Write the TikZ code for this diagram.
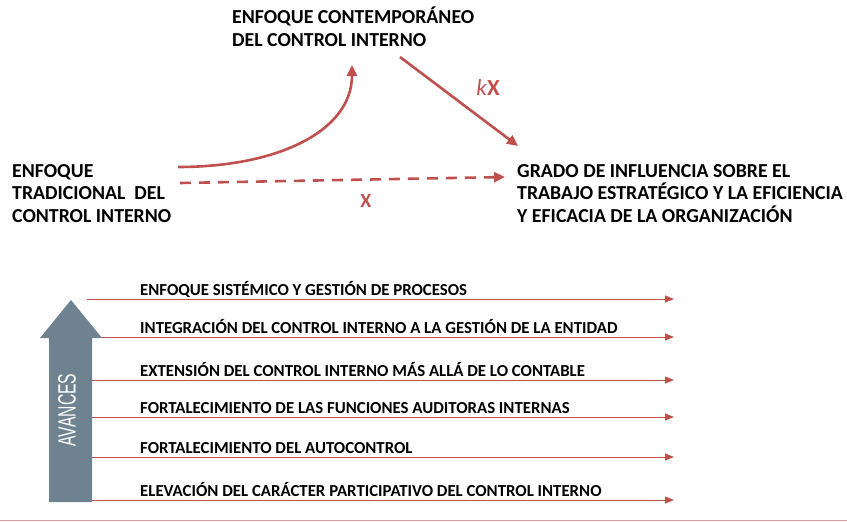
\documentclass[tikz,border=0pt]{standalone}
\usepackage{fontspec}
\setmainfont{Carlito}
\newfontfamily\avfont{Liberation Sans}
\usetikzlibrary{arrows.meta}

\definecolor{rojo}{RGB}{192,80,77}
\definecolor{pizarra}{RGB}{110,130,143}
\definecolor{borde}{RGB}{215,160,160}

\tikzset{
  titulo/.style={font=\bfseries\fontsize{19.8}{22.5}\selectfont, align=left, anchor=base west, inner sep=0pt},
  avance/.style={font=\bfseries\fontsize{16.8}{18}\selectfont, anchor=base west, inner sep=0pt},
  gruesa/.style={draw=rojo, line width=2.6pt, -{Triangle[length=11pt,width=10pt]}},
  fina/.style={draw=rojo, line width=1pt, -{Triangle[length=9pt,width=7pt]}},
  factor/.style={text=rojo, inner sep=0pt}
}

\begin{document}
\begin{tikzpicture}[x=1pt,y=-1pt]
	\useasboundingbox (0,0) rectangle (847,522);

	% textos de arriba (ancla en la ultima linea)
	\node[titulo] (contemp) at (232,46) {ENFOQUE CONTEMPORÁNEO\\DEL CONTROL INTERNO};
	\node[titulo] (tradic) at (12,222) {ENFOQUE\\TRADICIONAL\ \ DEL\\CONTROL INTERNO};
	\node[titulo] (grado) at (517,222) {GRADO DE INFLUENCIA SOBRE EL\\TRABAJO ESTRATÉGICO Y LA EFICIENCIA\\Y EFICACIA DE LA ORGANIZACIÓN};

	\coordinate (curvaA) at (178,167);
	\coordinate (curvaB) at (352,65);
	\coordinate (rectaA) at (400,57);
	\coordinate (rectaB) at (518,146);
	\coordinate (trazoA) at (180,183);
	\coordinate (trazoB) at (505,177);

	\draw[gruesa] (curvaA) .. controls (280,167) and (352,130) .. (curvaB);
	\draw[gruesa] (rectaA) -- (rectaB);
	\draw[gruesa, dash pattern=on 11pt off 8pt] (trazoA) -- (trazoB);

	\node[factor, font=\fontsize{23}{23}\selectfont] (kx) at (488,88) {\textit{k}\textbf{X}};
	\node[factor, font=\bfseries\fontsize{20}{20}\selectfont] (x) at (366,201) {X};

	% avances
	\foreach \i/\y/\t in {1/299/ENFOQUE SISTÉMICO Y GESTIÓN DE PROCESOS,
		2/337/INTEGRACIÓN DEL CONTROL INTERNO A LA GESTIÓN DE LA ENTIDAD,
		3/380/EXTENSIÓN DEL CONTROL INTERNO MÁS ALLÁ DE LO CONTABLE,
		4/417/FORTALECIMIENTO DE LAS FUNCIONES AUDITORAS INTERNAS,
		5/457/FORTALECIMIENTO DEL AUTOCONTROL,
		6/500/ELEVACIÓN DEL CARÁCTER PARTICIPATIVO DEL CONTROL INTERNO}
	{
		\coordinate (ini\i) at (87,\y);
		\coordinate (fin\i) at (674,\y);
		\draw[fina] (ini\i) -- (fin\i);
		\node[avance] (av\i) at (140,\y-3.5) {\t};
	}

	\fill[pizarra] (71,300) -- (102,338) -- (92,338) -- (92,502) -- (49,502) -- (49,338) -- (40,338) -- cycle;
	\node[text=white, rotate=90, inner sep=0pt] (avances) at (67,410)
		{\avfont\fontsize{25}{25}\selectfont\scalebox{0.63}[1]{AVANCES}};

	\draw[borde, line width=1pt] (0,520.5) -- (847,520.5);
\end{tikzpicture}
\end{document}
